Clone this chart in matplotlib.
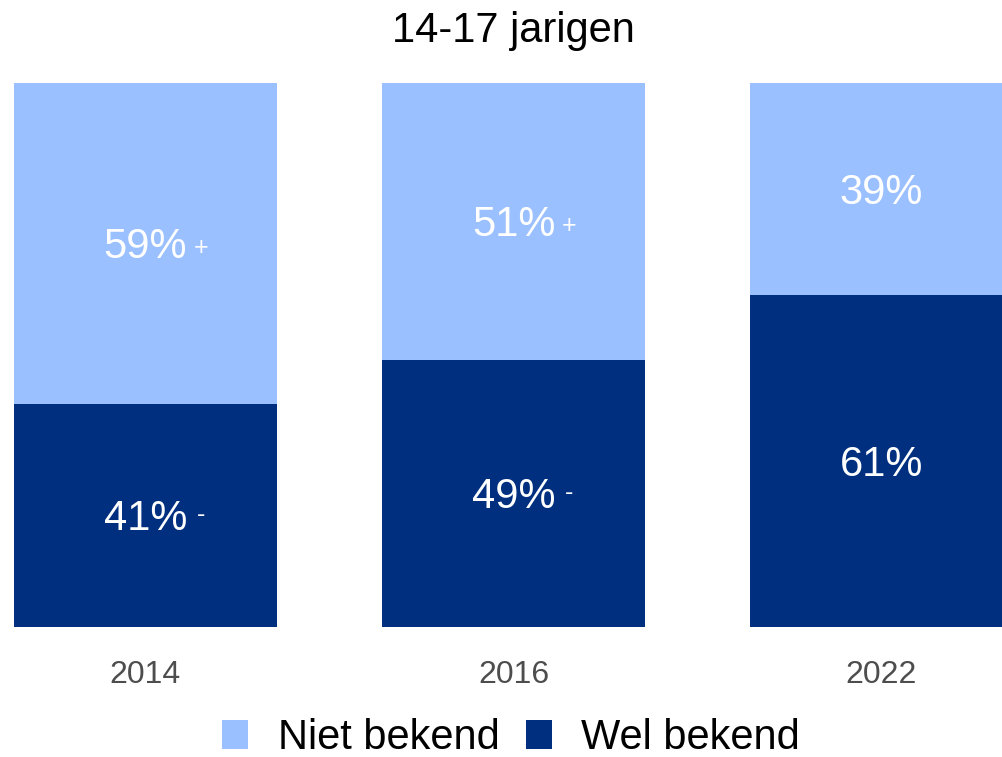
import matplotlib
matplotlib.use("Agg")
import matplotlib.pyplot as plt
from matplotlib.patches import Patch

plt.rcParams['font.family'] = ['Liberation Sans', 'DejaVu Sans']

years = ["2014", "2016", "2022"]
wel_bekend = [41, 49, 61]
niet_bekend = [59, 51, 39]
wel_signs = ["-", "-", ""]
niet_signs = ["+", "+", ""]
title = "14-17 jarigen"
series_names = ["Niet bekend", "Wel bekend"]

c_light = "#9BC0FF"
c_dark = "#002F80"

W, H = 1003, 757
fig = plt.figure(figsize=(W / 100, H / 100), dpi=100)
ax = fig.add_axes([0, 1 - 627 / H, 1, (627 - 83) / H])

x = list(range(len(years)))
bw = 263 / 368
ax.bar(x, wel_bekend, width=bw, color=c_dark)
ax.bar(x, niet_bekend, width=bw, bottom=wel_bekend, color=c_light)

ax.set_xlim(-145.5 / 368, (W - 145.5) / 368)
ax.set_ylim(0, 100)

def label(xi, y, txt, sign):
    t = ax.annotate(txt, xy=(xi, y), xytext=(0, -2.5), textcoords="offset points",
                    ha="center", va="center", color="white", fontsize=30)
    if sign:
        if sign == "+":
            ax.annotate(sign, xy=(1, 0.5), xycoords=t, xytext=(5, -0.5), textcoords="offset points",
                        ha="left", va="center", color="white", fontsize=18)
        else:
            ax.annotate(sign, xy=(1, 0.5), xycoords=t, xytext=(7, 3), textcoords="offset points",
                        ha="left", va="center", color="white", fontsize=18)

for i in x:
    label(i, wel_bekend[i] / 2, f"{wel_bekend[i]}%", wel_signs[i])
    label(i, wel_bekend[i] + niet_bekend[i] / 2, f"{niet_bekend[i]}%", niet_signs[i])

ax.set_xticks(x)
ax.set_xticklabels(years, fontsize=23, color="#4d4d4d")
ax.tick_params(axis="x", length=0, pad=24)
ax.set_yticks([])
for s in ax.spines.values():
    s.set_visible(False)

fig.text(513 / W, 1 - 31 / H, title, ha="center", va="center", fontsize=30, color="black")

handles = [Patch(facecolor=c_light), Patch(facecolor=c_dark)]
fig.legend(handles, series_names, loc="center", bbox_to_anchor=(511 / W, 1 - 738 / H),
           ncol=2, frameon=False, fontsize=30, handlelength=0.63, handleheight=0.7,
           handletextpad=0.7, columnspacing=0.63, borderpad=0, borderaxespad=0)

fig.savefig("out.png", dpi=100)
